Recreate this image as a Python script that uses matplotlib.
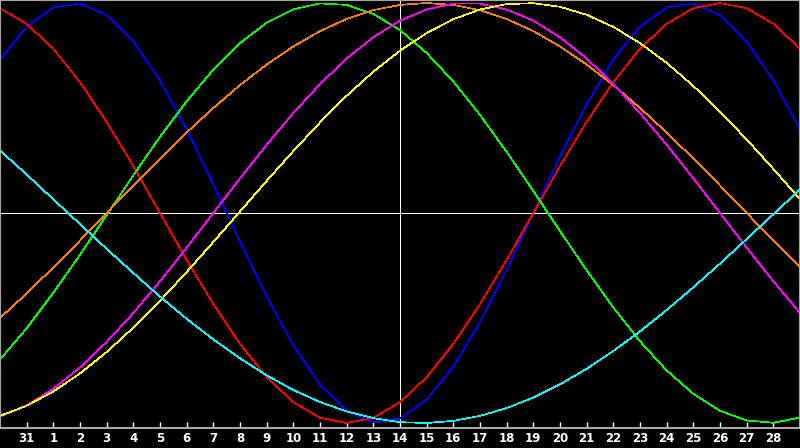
import matplotlib
matplotlib.use("Agg")
import matplotlib.pyplot as plt

# day labels under the tick marks (x positions 1..29)
day_labels = ["31", "1", "2", "3", "4", "5", "6", "7", "8", "9", "10", "11", "12",
              "13", "14", "15", "16", "17", "18", "19", "20", "21", "22", "23",
              "24", "25", "26", "27", "28"]

# curve values (percent), one per day slot 0..30
blue = [73.1, 88.8, 97.9, 99.8, 94.2, 81.7, 63.1, 39.8, 13.6, -13.6, -39.8, -63.1,
        -81.7, -94.2, -99.8, -97.9, -88.8, -73.1, -51.9, -27.0, 0.0, 27.0, 51.9,
        73.1, 88.8, 97.9, 99.8, 94.2, 81.7, 63.1, 39.8]
red = [97.5, 90.1, 78.2, 62.3, 43.4, 22.3, 0.0, -22.3, -43.4, -62.3, -78.2, -90.1,
       -97.5, -100.0, -97.5, -90.1, -78.2, -62.3, -43.4, -22.3, 0.0, 22.3, 43.4,
       62.3, 78.2, 90.1, 97.5, 100.0, 97.5, 90.1, 78.2]
green = [-69.7, -54.9, -38.0, -19.9, -1.0, 18.0, 36.3, 53.2, 68.3, 80.9, 90.6, 97.0,
         99.8, 99.1, 94.8, 87.1, 76.2, 62.6, 46.7, 29.1, 10.5, -8.6, -27.3, -45.0,
         -61.1, -75.0, -86.1, -94.2, -98.8, -99.9, -97.4]
orange = [-50.0, -38.3, -25.9, -13.1, 0.0, 13.1, 25.9, 38.3, 50.0, 60.9, 70.7, 79.3,
          86.6, 92.4, 96.6, 99.1, 100.0, 99.1, 96.6, 92.4, 86.6, 79.3, 70.7, 60.9,
          50.0, 38.3, 25.9, 13.1, 0.0, -13.1, -25.9]
magenta = [-96.9, -91.6, -83.7, -73.6, -61.4, -47.6, -32.5, -16.5, 0.0, 16.5, 32.5,
           47.6, 61.4, 73.6, 83.7, 91.6, 96.9, 99.7, 99.7, 96.9, 91.6, 83.7, 73.6,
           61.4, 47.6, 32.5, 16.5, 0.0, -16.5, -32.5, -47.6]
yellow = [-96.6, -91.8, -85.0, -76.4, -66.2, -54.6, -41.8, -28.1, -13.8, 0.7, 15.3,
          29.5, 43.1, 55.8, 67.3, 77.3, 85.7, 92.3, 96.9, 99.5, 99.9, 98.2, 94.4,
          88.6, 80.9, 71.5, 60.5, 48.3, 35.0, 21.0, 6.6]
cyan = [29.8, 18.3, 6.5, -5.3, -17.1, -28.6, -39.8, -50.4, -60.2, -69.2, -77.3,
        -84.3, -90.0, -94.5, -97.7, -99.6, -100.0, -99.0, -96.6, -92.9, -87.9,
        -81.6, -74.2, -65.7, -56.4, -46.2, -35.4, -24.1, -12.4, -0.6, 11.2]

series = [
    (blue, "#0000ff"),
    (red, "#ff0000"),
    (green, "#00ff00"),
    (orange, "#ff8000"),
    (magenta, "#ff00ff"),
    (yellow, "#ffff00"),
    (cyan, "#00ffff"),
]

fig = plt.figure(figsize=(8, 4.48), dpi=100, facecolor="black")
ax = fig.add_axes([0, 20 / 448, 1, 428 / 448])
ax.set_facecolor("black")

x = list(range(len(blue)))
ax.set_xlim(0, 30)
ax.set_ylim(-215 / 2.1, 213 / 2.1)

# crosshair
ax.axhline(0, color="white", lw=0.72, antialiased=False, zorder=1)
ax.axvline(15, color="white", lw=0.72, antialiased=False, zorder=1)

for vals, col in series:
    ax.plot(x, vals, color=col, lw=0.5, antialiased=False, zorder=2)

for s in ax.spines.values():
    s.set_color("#a8a8a8")
    s.set_linewidth(1.5)

ax.set_yticks([])
ax.set_xticks(range(1, 30))
ax.set_xticklabels(day_labels)
ax.tick_params(axis="x", direction="in", length=4, width=1.0, color="white",
               labelcolor="white", labelsize=8.5, pad=3)
for lab in ax.get_xticklabels():
    lab.set_fontweight("bold")
    lab.set_family("DejaVu Sans")

fig.savefig("out.png", dpi=100, facecolor="black")
